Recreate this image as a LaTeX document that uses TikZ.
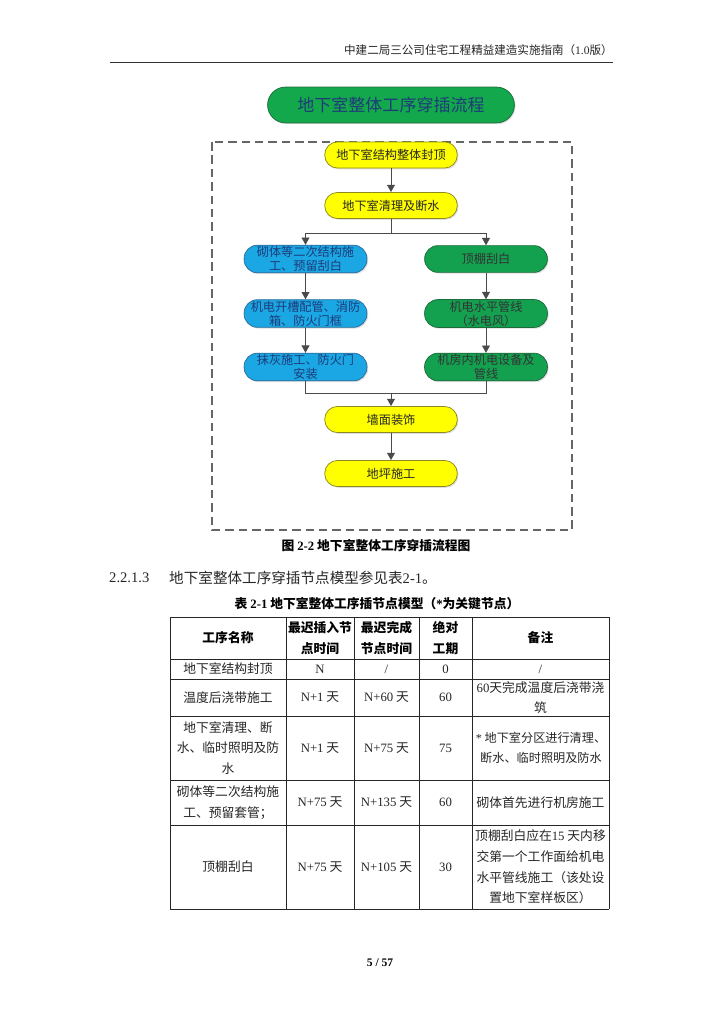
\documentclass[tikz,border=0pt]{standalone}
\usepackage{fontspec}
\setmainfont{Liberation Serif}
\newfontfamily\cjk{Noto Sans CJK SC}
\usetikzlibrary{arrows.meta}
\usetikzlibrary{shadows}
\newcommand\lat[1]{{\rmfamily #1}}
\definecolor{boxyellow}{HTML}{FFFF00}
\definecolor{edgeyellow}{HTML}{8C8A1E}
\definecolor{boxblue}{HTML}{1AA7E3}
\definecolor{edgeblue}{HTML}{2A6E9A}
\definecolor{boxgreen}{HTML}{13A150}
\definecolor{edgegreen}{HTML}{1D6B3A}
\definecolor{titlegreen}{HTML}{12A84B}
\definecolor{navytext}{HTML}{1F3B7A}
\definecolor{linkgray}{HTML}{4A4A4A}
\tikzset{%
    flow/.style={draw,line width=0.6pt,align=center,inner sep=1pt,
        font=\cjk\fontsize{10}{11.5}\selectfont,
        drop shadow={opacity=0.25,shadow xshift=1pt,shadow yshift=-1pt}},
    yellowbox/.style={flow,fill=boxyellow,draw=edgeyellow,text=black!85,
        minimum width=109pt,minimum height=21.5pt,rounded corners=10.5pt},
    bluebox/.style={flow,fill=boxblue,draw=edgeblue,text=navytext,
        minimum width=101pt,minimum height=22pt,rounded corners=11pt},
    greenbox/.style={flow,fill=boxgreen,draw=edgegreen,text=black!80,
        minimum width=101pt,minimum height=22pt,rounded corners=11pt},
    titlebox/.style={flow,fill=titlegreen,draw=edgegreen,text=navytext,
        font=\cjk\fontsize{14}{16}\selectfont,
        minimum width=203pt,minimum height=29.5pt,rounded corners=14.75pt},
    link/.style={draw=linkgray,line width=0.7pt},
    arr/.style={link,-{Triangle[length=6pt,width=6.5pt]}},
    dashbox/.style={draw=black!60,line width=1.1pt,dash pattern=on 7pt off 4pt},
    tabline/.style={draw=black!85,line width=0.6pt},
    cell/.style={inner sep=0pt,align=center,text=black!85,
        font=\cjk\fontsize{10.5}{17}\selectfont},
    headcell/.style={cell,text=black,font=\cjk\bfseries\fontsize{10.5}{17}\selectfont},
    plain/.style={inner sep=0pt,text=black!85},
}
\begin{document}
\begin{tikzpicture}[x=0.8224pt,y=-0.8224pt]
  \useasboundingbox[fill=white] (0,0) rectangle (724,1024);

  % page header
  \node[plain,anchor=east,font=\cjk\fontsize{9.5}{11}\selectfont] (pagehead) at (613,50)
    {中建二局三公司住宅工程精益建造实施指南（\lat{1.0}版）};
  \coordinate (ruleL) at (110,62);
  \coordinate (ruleR) at (613,62);
  \draw[line width=0.5pt,black!80] (ruleL) -- (ruleR);

  % flow chart
  \node[titlebox] (title) at (391,105) {地下室整体工序穿插流程};
  \draw[dashbox] (212,142) rectangle (572,530);

  \node[yellowbox] (seal) at (391,155) {地下室结构整体封顶};
  \node[yellowbox] (clean) at (391,205.5) {地下室清理及断水};

  \node[bluebox] (masonry) at (305.5,259) {砌体等二次结构施\\工、预留刮白};
  \node[bluebox] (slot) at (305.5,313.5) {机电开槽配管、消防\\箱、防火门框};
  \node[bluebox] (plaster) at (305.5,367) {抹灰施工、防火门\\安装};

  \node[greenbox] (ceiling) at (486,259) {顶棚刮白};
  \node[greenbox] (pipes) at (486,313.5) {机电水平管线\\（水电风）};
  \node[greenbox] (plant) at (486,367) {机房内机电设备及\\管线};

  \node[yellowbox] (wall) at (391,419.5) {墙面装饰};
  \node[yellowbox] (floor) at (391,473.5) {地坪施工};

  \coordinate (split) at (391,233);
  \coordinate (merge) at (391,393);

  \draw[arr] (seal) -- (clean);
  \draw[link] (clean) -- (split);
  \draw[arr] (split) -| (masonry.north);
  \draw[arr] (split) -| (ceiling.north);
  \draw[arr] (masonry) -- (slot);
  \draw[arr] (slot) -- (plaster);
  \draw[arr] (ceiling) -- (pipes);
  \draw[arr] (pipes) -- (plant);
  \draw[link] (plaster.south) |- (merge);
  \draw[link] (plant.south) |- (merge);
  \draw[arr] (merge) -- (wall);
  \draw[arr] (wall) -- (floor);

  % captions and text
  \node[plain,text=black,font=\cjk\bfseries\fontsize{10.5}{12}\selectfont] (figcap) at (376,546)
    {图 \lat{\bfseries 2-2} 地下室整体工序穿插流程图};
  \node[plain,anchor=west,font=\rmfamily\fontsize{12}{14}\selectfont] (secnum) at (109,578) {2.2.1.3};
  \node[plain,anchor=west,font=\cjk\fontsize{12}{14}\selectfont] (sectext) at (169,578)
    {地下室整体工序穿插节点模型参见表\lat{2-1}。};
  \node[plain,text=black,font=\cjk\bfseries\fontsize{10.5}{12}\selectfont] (tabcap) at (377,604)
    {表 \lat{\bfseries 2-1} 地下室整体工序插节点模型（\lat{\bfseries *}为关键节点）};

  % table grid
  \foreach \x in {170,286,354,419,472,609}
    \draw[tabline] (\x,617) -- (\x,909);
  \foreach \y in {617,659,679,716,780,825,909}
    \draw[tabline] (170,\y) -- (609,\y);

  % header row
  \node[headcell] (hname) at (228,638) {工序名称};
  \node[headcell] (hstart) at (320,638) {最迟插入节\\点时间};
  \node[headcell] (hend) at (386.5,638) {最迟完成\\节点时间};
  \node[headcell] (hdays) at (445.5,638) {绝对\\工期};
  \node[headcell] (hnote) at (540.5,638) {备注};

  % row 1
  \node[cell] (n1) at (228,669) {地下室结构封顶};
  \node[cell] (s1) at (320,669) {\lat{N}};
  \node[cell] (e1) at (386.5,669) {\lat{/}};
  \node[cell] (d1) at (445.5,669) {\lat{0}};
  \node[cell] (r1) at (540.5,669) {\lat{/}};

  % row 2
  \node[cell] (n2) at (228,697.5) {温度后浇带施工};
  \node[cell] (s2) at (320,697.5) {\lat{N+1} 天};
  \node[cell] (e2) at (386.5,697.5) {\lat{N+60} 天};
  \node[cell] (d2) at (445.5,697.5) {\lat{60}};
  \node[cell] (r2) at (540.5,697.5) {\lat{60}天完成温度后浇带浇\\筑};

  % row 3
  \node[cell] (n3) at (228,748) {地下室清理、断\\水、临时照明及防\\水};
  \node[cell] (s3) at (320,748) {\lat{N+1} 天};
  \node[cell] (e3) at (386.5,748) {\lat{N+75} 天};
  \node[cell] (d3) at (445.5,748) {\lat{75}};
  \node[cell,font=\cjk\fontsize{10}{17}\selectfont] (r3) at (541,748)
    {\lat{*} 地下室分区进行清理、\\断水、临时照明及防水};

  % row 4
  \node[cell] (n4) at (228,802.5) {砌体等二次结构施\\工、预留套管；};
  \node[cell] (s4) at (320,802.5) {\lat{N+75} 天};
  \node[cell] (e4) at (386.5,802.5) {\lat{N+135} 天};
  \node[cell] (d4) at (445.5,802.5) {\lat{60}};
  \node[cell] (r4) at (540.5,802.5) {砌体首先进行机房施工};

  % row 5
  \node[cell] (n5) at (228,867) {顶棚刮白};
  \node[cell] (s5) at (320,867) {\lat{N+75} 天};
  \node[cell] (e5) at (386.5,867) {\lat{N+105} 天};
  \node[cell] (d5) at (445.5,867) {\lat{30}};
  \node[cell] (r5) at (540.5,867) {顶棚刮白应在\lat{15} 天内移\\交第一个工作面给机电\\水平管线施工（该处设\\置地下室样板区）};

  % page number
  \node[plain,text=black,font=\rmfamily\bfseries\fontsize{9.5}{11}\selectfont] (pageno) at (380,963) {5 / 57};
\end{tikzpicture}
\end{document}
